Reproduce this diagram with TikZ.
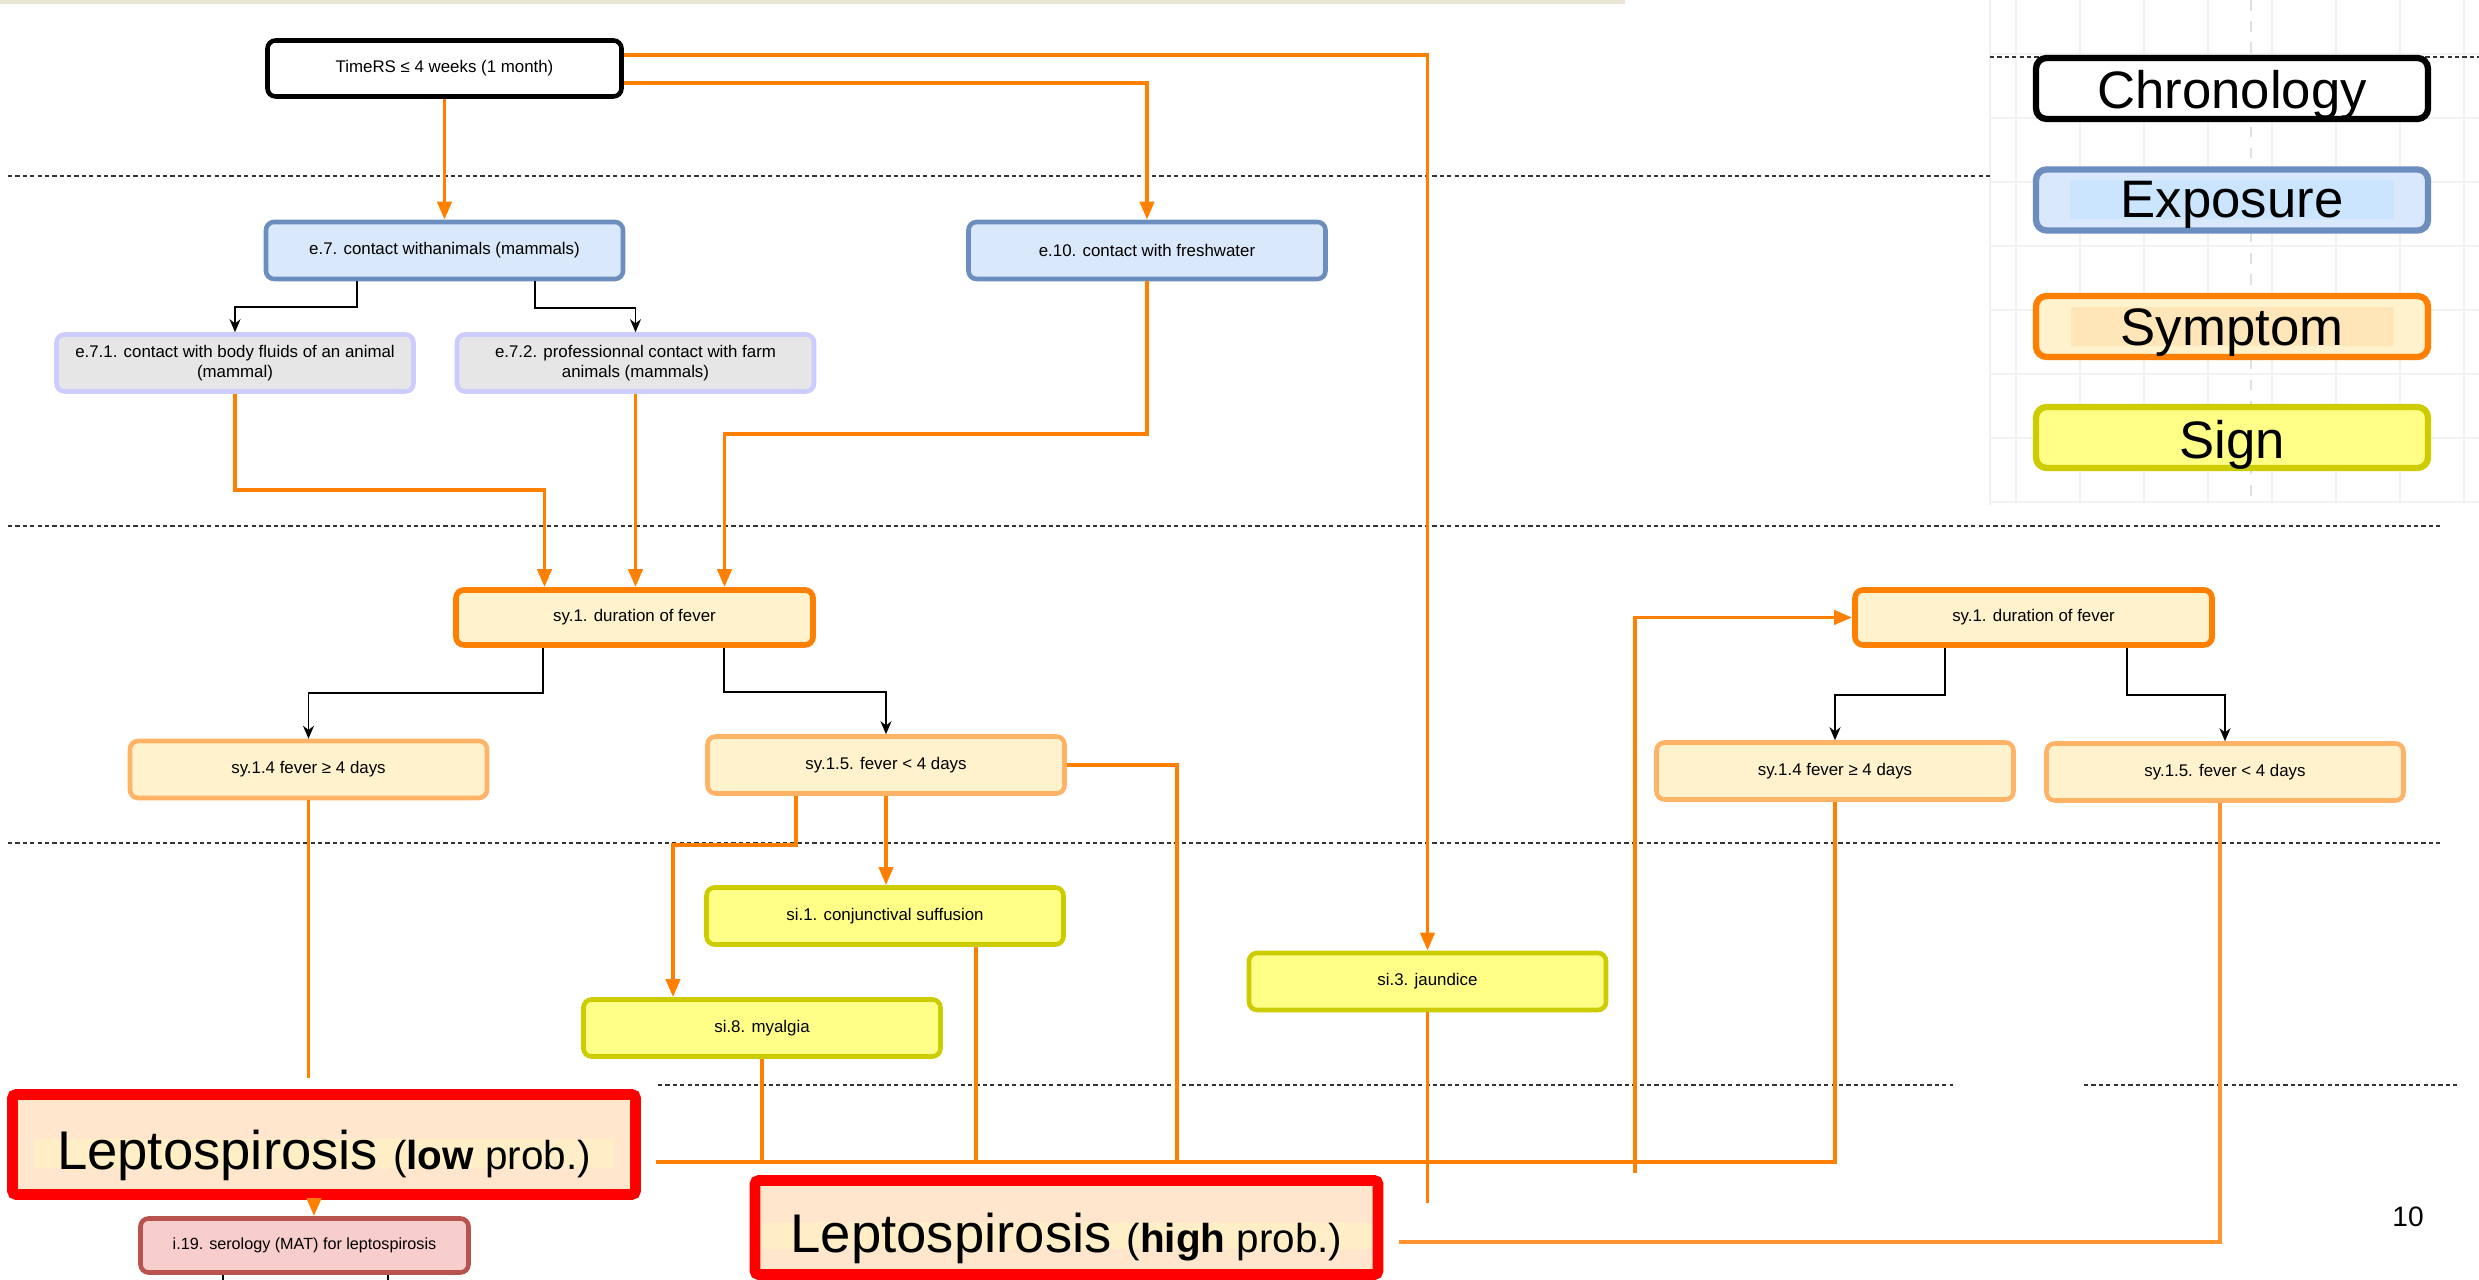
\documentclass[tikz,border=0pt]{standalone}
\usepackage{fontspec}
\setmainfont{Liberation Sans}
\usetikzlibrary{arrows.meta,positioning,calc}
\definecolor{linkorange}{HTML}{FF8000}
\definecolor{linklight}{HTML}{FF9430}
\definecolor{symorange}{HTML}{FF8000}
\definecolor{symlight}{HTML}{FFB366}
\definecolor{symbg}{HTML}{FFF2CC}
\definecolor{symband}{HTML}{FFE6B8}
\definecolor{expoblue}{HTML}{6C8EBF}
\definecolor{expobg}{HTML}{DAE8FC}
\definecolor{expoband}{HTML}{CCE5FF}
\definecolor{lavender}{HTML}{CCCCFF}
\definecolor{subexpobg}{HTML}{E6E6E6}
\definecolor{signolive}{HTML}{CCCC00}
\definecolor{signbg}{HTML}{FFFF88}
\definecolor{diagred}{HTML}{FF0000}
\definecolor{diagbg}{HTML}{FFE6CC}
\definecolor{lepband}{HTML}{FFEEC6}
\definecolor{testred}{HTML}{B85450}
\definecolor{testbg}{HTML}{F8CECC}
\definecolor{stripbeige}{HTML}{E8E6D2}
\definecolor{gridgray}{HTML}{F1F1F1}
\newcommand{\nodefont}{\fontsize{4.8}{5.7}\selectfont}
\newcommand{\bandbox}[4]{{\setlength{\fboxsep}{0pt}\colorbox{#1}{\parbox[c][#3][c]{#2}{\centering #4}}}}
\newcommand{\lowered}[2]{\raisebox{-#1}[\height][\depth]{#2}}
\tikzset{
  box/.style={rounded corners=2.3pt,line width=1.3pt,inner sep=0pt,align=center,
              font=\nodefont,minimum width=3.57cm,minimum height=0.57cm},
  chronocard/.style={box,draw=black,fill=white,minimum width=3.54cm,minimum height=0.56cm},
  expocard/.style={box,draw=expoblue,fill=expobg},
  subexpocard/.style={box,draw=lavender,fill=subexpobg},
  symcard/.style={box,draw=symorange,fill=symbg,line width=1.6pt,minimum height=0.55cm},
  subsymcard/.style={box,draw=symlight,fill=symbg},
  signcard/.style={box,draw=signolive,fill=signbg},
  testcard/.style={box,draw=testred,fill=testbg,minimum width=3.28cm,minimum height=0.54cm,
                   font=\fontsize{4.6}{5.5}\selectfont},
  diagcard/.style={draw=diagred,fill=diagbg,line width=3pt,rounded corners=1pt,
                   inner sep=0pt,minimum width=6.23cm},
  legcard/.style={rounded corners=3pt,line width=1.8pt,inner sep=0pt,minimum width=3.92cm,
                  minimum height=0.61cm,font=\fontsize{15}{18}\selectfont},
  orangearr/.style={-{Triangle[length=1.8mm,width=1.4mm]},line width=1.1pt,draw=linkorange},
  orangeline/.style={line width=1.1pt,draw=linkorange},
  blackarr/.style={-{Stealth[length=1.3mm,width=1.1mm]},line width=0.5pt,draw=black},
  sepline/.style={line width=0.6pt,draw=black!80,dash pattern=on 1.2pt off 0.9pt},
  gridline/.style={line width=0.4pt,draw=gridgray}
}
\begin{document}
\begin{tikzpicture}[x=1cm,y=1cm]
    \path[use as bounding box,fill=white] (0,0) rectangle (24.79,-12.80);
    \fill[stripbeige] (0,0) rectangle (16.25,-0.045);

    % legend background grid
    \foreach \gx in {0,...,7}{
      \draw[gridline] (20.16+0.64*\gx,0) -- (20.16+0.64*\gx,-5.05);
    }
    \foreach \gy in {0,...,7}{
      \draw[gridline] (19.90,-0.54-0.64*\gy) -- (24.79,-0.54-0.64*\gy);
    }
    \draw[gridline] (19.90,0) -- (19.90,-5.05);
    \draw[line width=0.4pt,draw=black!12,dashed] (22.51,0) -- (22.51,-5.05);

    % time separators
    \draw[sepline] (0.08,-1.76) -- (19.90,-1.76);
    \draw[sepline] (19.90,-0.57) -- (24.79,-0.57);
    \draw[sepline] (0.08,-5.26) -- (24.43,-5.26);
    \draw[sepline] (0.08,-8.43) -- (24.43,-8.43);
    \draw[sepline] (6.58,-10.85) -- (19.53,-10.85);
    \draw[sepline] (20.84,-10.85) -- (24.58,-10.85);

    % nodes
    \node[chronocard] (time) at (4.445,-0.685) {TimeRS ≤ 4 weeks (1 month)};
    \node[expocard] (e7) at (4.445,-2.505) {e.7. contact withanimals (mammals)};
    \node[expocard] (e10) at (11.47,-2.505) {e.10. contact with freshwater};
    \node[subexpocard] (e71) at (2.35,-3.63)
      {e.7.1. contact with body fluids of an animal\\(mammal)};
    \node[subexpocard] (e72) at (6.355,-3.63)
      {e.7.2. professionnal contact with farm\\animals (mammals)};
    \node[symcard] (sy1a) at (6.345,-6.175) {sy.1. duration of fever};
    \node[subsymcard] (sy14a) at (3.085,-7.695) {sy.1.4 fever ≥ 4 days};
    \node[subsymcard] (sy15a) at (8.86,-7.65) {sy.1.5. fever < 4 days};
    \node[signcard] (si1) at (8.85,-9.16) {si.1. conjunctival suffusion};
    \node[signcard] (si8) at (7.62,-10.28) {si.8. myalgia};
    \node[signcard] (si3) at (14.275,-9.815) {si.3. jaundice};
    \node[symcard] (sy1b) at (20.335,-6.175) {sy.1. duration of fever};
    \node[subsymcard] (sy14b) at (18.35,-7.71) {sy.1.4 fever ≥ 4 days};
    \node[subsymcard] (sy15b) at (22.25,-7.72) {sy.1.5. fever < 4 days};
    \node[diagcard,minimum height=1.0cm] (leplow) at (3.24,-11.445)
      {\lowered{0.09cm}{\bandbox{lepband}{5.8cm}{0.29cm}{\fontsize{15.5}{18}\selectfont
       \lowered{0.02cm}{Leptospirosis {\fontsize{11.5}{13}\selectfont(\textbf{low} prob.)}}}}};
    \node[diagcard,minimum height=0.94cm] (lephigh) at (10.665,-12.275)
      {\lowered{0.09cm}{\bandbox{lepband}{6.1cm}{0.26cm}{\fontsize{15.5}{18}\selectfont
       \lowered{0.02cm}{Leptospirosis {\fontsize{11.5}{13}\selectfont(\textbf{high} prob.)}}}}};
    \node[testcard] (i19) at (3.045,-12.455) {i.19. serology (MAT) for leptospirosis};

    % legend
    \node[legcard,draw=black,fill=white] (lchrono) at (22.32,-0.885)
      {\lowered{0.06cm}{Chronology}};
    \node[legcard,draw=expoblue,fill=expobg] (lexpo) at (22.32,-2.00)
      {\bandbox{expoband}{3.24cm}{0.39cm}{\lowered{0.05cm}{Exposure}}};
    \node[legcard,draw=symorange,fill=symbg] (lsym) at (22.32,-3.265)
      {\bandbox{symband}{3.23cm}{0.39cm}{\lowered{0.06cm}{Symptom}}};
    \node[legcard,draw=signolive,fill=signbg] (lsign) at (22.32,-4.375)
      {\lowered{0.07cm}{Sign}};

    \node[font=\fontsize{8}{10}\selectfont] (pagenum) at (24.08,-12.17) {10};

    % black branch arrows
    \draw[blackarr] ([xshift=-0.875cm]e7.south) -- ++(0,-0.26) -| (e71.north);
    \draw[blackarr] ([xshift=0.905cm]e7.south) -- ++(0,-0.27) -| (e72.north);
    \draw[blackarr] ([xshift=-0.915cm]sy1a.south) -- ++(0,-0.45) -| (sy14a.north);
    \draw[blackarr] ([xshift=0.895cm]sy1a.south) -- ++(0,-0.44) -| (sy15a.north);
    \draw[blackarr] ([xshift=-0.885cm]sy1b.south) -- ++(0,-0.47) -| (sy14b.north);
    \draw[blackarr] ([xshift=0.935cm]sy1b.south) -- ++(0,-0.47) -| (sy15b.north);

    % orange links
    \draw[orangearr] (time) -- (e7);
    \draw[orangearr] ([yshift=-0.145cm]time.east) -| (e10.north);
    \draw[orangearr] ([yshift=0.135cm]time.east) -| (si3.north);
    \draw[orangearr] (e10.south) -- ++(0,-1.53) -| ([xshift=0.9cm]sy1a.north);
    \draw[orangearr] (e71.south) -- ++(0,-0.96) -| ([xshift=-0.9cm]sy1a.north);
    \draw[orangearr] (e72.south) -- (e72.south |- sy1a.north);
    \draw[orangearr] ([xshift=-0.9cm]sy15a.south) -- ++(0,-0.49)
      -| ([xshift=-0.89cm]si8.north);
    \draw[orangearr] (sy15a.south) -- (sy15a.south |- si1.north);

    \coordinate (bus) at (0,-11.62);
    \coordinate (lepin) at ([xshift=0.15cm]leplow.east);
    \draw[orangeline] (sy15a.east) -- ++(1.10,0) coordinate (sy15aturn)
      -- (sy15aturn |- bus);
    \draw[orangeline] (si8.south) -- (si8.south |- bus);
    \draw[orangeline] ([xshift=0.91cm]si1.south) coordinate (si1out) -- (si1out |- bus);
    \draw[orangeline] (sy14b.south) |- (lepin |- bus);
    \draw[orangeline,shorten >=0.11cm] (sy14a.south) -- (sy14a.south |- leplow.north);
    \draw[orangearr] ([xshift=-0.1cm]leplow.south) coordinate (lepout)
      -- (lepout |- i19.north);
    \draw[orangeline] (si3.south) -- ++(0,-1.91);

    \coordinate (risefoot) at (16.35,-11.73);
    \draw[orangearr] (risefoot) |- (sy1b.west);

    \coordinate (hiin) at ([xshift=0.16cm]lephigh.east);
    \coordinate (lowbus) at (0,-12.42);
    \draw[orangeline,draw=linklight] ([xshift=-0.05cm]sy15b.south) |- (hiin |- lowbus);

    % links leaving the page below i.19
    \draw[line width=0.5pt] ([xshift=-0.815cm]i19.south) -- ++(0,-0.1);
    \draw[line width=0.5pt] ([xshift=0.835cm]i19.south) -- ++(0,-0.1);
\end{tikzpicture}
\end{document}
